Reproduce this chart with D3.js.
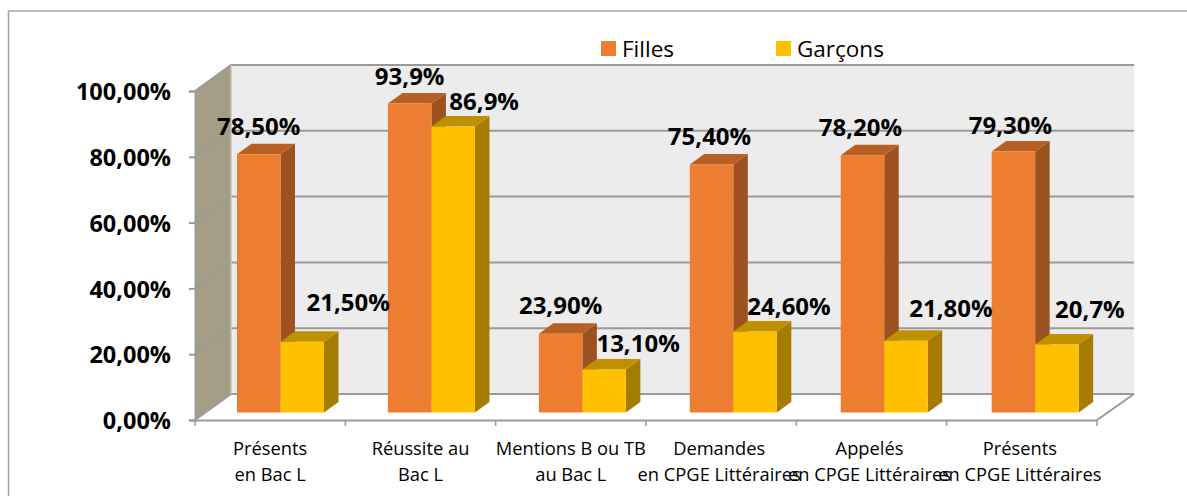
<!DOCTYPE html>
<html>
<head>
<meta charset="utf-8">
<script src="https://cdn.jsdelivr.net/npm/d3@7"></script>
<style>
  html, body { margin: 0; padding: 0; background: #fff; overflow: hidden; }
  svg { display: block; }
  text { font-family: "Open Sans", "Noto Sans", sans-serif; fill: #000; }
</style>
</head>
<body>
<div id="chart"></div>
<script>
const categories = [
  ['Présents', 'en Bac L'],
  ['Réussite au', 'Bac L'],
  ['Mentions B ou TB', 'au Bac L'],
  ['Demandes', 'en CPGE Littéraires'],
  ['Appelés', 'en CPGE Littéraires'],
  ['Présents', 'en CPGE Littéraires']
];
const filles = [78.5, 93.9, 23.9, 75.4, 78.2, 79.3];
const garcons = [21.5, 86.9, 13.1, 24.6, 21.8, 20.7];
const fillesLabels = ['78,50%', '93,9%', '23,90%', '75,40%', '78,20%', '79,30%'];
const garconsLabels = ['21,50%', '86,9%', '13,10%', '24,60%', '21,80%', '20,7%'];
const yTicks = [0, 20, 40, 60, 80, 100];

const width = 1187, height = 496;
// front edge of the floor; the back wall is this plane shifted by depth
const front = {left: 195, right: 1097, bottom: 420, top: 91};
const depth = {x: 36, y: -26};
const barDepth = {x: 14.5, y: -10.5};
const barWidth = 43.5;

// the labels were moved by hand in the original, so they need their own nudges
const fillesNudge = [[0, -19], [0, -19], [0, -20], [-2, -19], [-2, -19], [-3, -18]];
const garconsNudge = [[46, -31], [31, -17], [34, -17], [34, -17], [45, -24], [33, -26]];

const svg = d3.select('#chart').append('svg')
    .attr('width', width)
    .attr('height', height);

const x = d3.scaleBand()
    .domain(d3.range(categories.length))
    .range([front.left, front.right]);

const y = d3.scaleLinear()
    .domain([0, 100])
    .range([front.bottom, front.top]);

const barLeft = i => x(i) + 42 + i * 0.6;
const barY = v => y(v) - 7.5;

// outer frame, runs off the right and bottom of the picture
svg.append('rect')
    .attr('x', 8.5).attr('y', 11)
    .attr('width', 1200).attr('height', 520)
    .attr('fill', 'none')
    .attr('stroke', '#a6a6a6')
    .attr('stroke-width', 1.5);

// back wall
svg.append('rect')
    .attr('x', front.left + depth.x)
    .attr('y', y(100) + depth.y)
    .attr('width', front.right - front.left + 1)
    .attr('height', y(0) - y(100))
    .attr('fill', '#ececec');

// left wall
svg.append('path')
    .attr('d', d3.line()([
      [front.left, y(100)],
      [front.left + depth.x, y(100) + depth.y],
      [front.left + depth.x, y(0) + depth.y],
      [front.left, y(0)]
    ]) + 'Z')
    .attr('fill', '#a59d84');

// gridlines: left wall and back wall
const gridColor = '#9a9a9a';
svg.append('g').selectAll('path')
    .data(yTicks)
  .join('path')
    .attr('d', d => d3.line()([
      [front.left, y(d)],
      [front.left + depth.x, y(d) + depth.y],
      [front.right + depth.x + 1, y(d) + depth.y]
    ]))
    .attr('fill', 'none')
    .attr('stroke', gridColor)
    .attr('stroke-width', 2);

// floor outline on the right side
svg.append('path')
    .attr('d', d3.line()([
      [front.right + depth.x + 1, y(0) + depth.y],
      [front.right, y(0)]
    ]))
    .attr('stroke', gridColor)
    .attr('stroke-width', 2);

svg.append('line')
    .attr('x1', front.left + depth.x).attr('x2', front.left + depth.x)
    .attr('y1', y(100) + depth.y).attr('y2', y(0) + depth.y)
    .attr('stroke', '#c4c2b6')
    .attr('stroke-width', 1.5);

// axes
const yAxis = d3.axisLeft(y)
    .tickValues(yTicks)
    .tickFormat(d => d3.format('.2f')(d).replace('.', ',') + '%')
    .tickSize(6)
    .tickPadding(18);

const yAxisG = svg.append('g')
    .attr('transform', `translate(${front.left},0)`)
    .call(yAxis);
yAxisG.selectAll('text')
    .attr('font-size', 23.5).attr('font-weight', 700)
    .attr('dy', '0.37em')
    .style('font-family', '"Open Sans", sans-serif');
yAxisG.selectAll('line, path').attr('stroke', gridColor).attr('stroke-width', 2);

const xAxis = d3.axisBottom(x)
    .tickValues([])
    .tickSizeOuter(0);
const xAxisG = svg.append('g')
    .attr('transform', `translate(0,${y(0)})`)
    .call(xAxis);
xAxisG.selectAll('path').attr('stroke', gridColor).attr('stroke-width', 2);

// category boundary ticks
svg.append('g').selectAll('line')
    .data(d3.range(categories.length + 1))
  .join('line')
    .attr('x1', i => i < categories.length ? x(i) : front.right)
    .attr('x2', i => i < categories.length ? x(i) : front.right)
    .attr('y1', y(0))
    .attr('y2', y(0) + 6)
    .attr('stroke', gridColor)
    .attr('stroke-width', 1.5);

// category labels
const catText = svg.append('g').selectAll('text')
    .data(categories)
  .join('text')
    .attr('text-anchor', 'middle')
    .attr('font-size', 18.3);
catText.selectAll('tspan')
    .data((d, i) => d.map((line, j) => ({line, j, i})))
  .join('tspan')
    .attr('x', d => x(d.i) + x.bandwidth() / 2 - (d.i > 2 ? 2 : 0))
    .attr('y', d => 455 + d.j * 26)
    .text(d => d.line);

// 3D bars: side, top, front
function drawBars(values, colors, leftOf) {
  const g = svg.append('g').selectAll('g')
      .data(values)
    .join('g');

  g.append('path') // side
      .attr('d', (d, i) => {
        const r = leftOf(i) + barWidth, t = barY(d), b = barY(0);
        return d3.line()([
          [r, t], [r + barDepth.x, t + barDepth.y],
          [r + barDepth.x, b + barDepth.y], [r, b]
        ]) + 'Z';
      })
      .attr('fill', colors.side);

  g.append('path') // top
      .attr('d', (d, i) => {
        const l = leftOf(i), t = barY(d);
        return d3.line()([
          [l, t], [l + barDepth.x, t + barDepth.y],
          [l + barWidth + barDepth.x, t + barDepth.y], [l + barWidth, t]
        ]) + 'Z';
      })
      .attr('fill', colors.top);

  g.append('rect') // front
      .attr('x', (d, i) => leftOf(i))
      .attr('y', d => barY(d))
      .attr('width', barWidth)
      .attr('height', d => barY(0) - barY(d))
      .attr('fill', colors.front);
}

drawBars(filles, {front: '#ed7d31', side: '#9c5220', top: '#b85f24'}, barLeft);
drawBars(garcons, {front: '#ffc000', side: '#a67c00', top: '#bf9000'}, i => barLeft(i) + barWidth);

// value labels
const labelG = svg.append('g')
    .attr('font-size', 24)
    .attr('font-weight', 700)
    .attr('text-anchor', 'middle');
labelG.selectAll('.f')
    .data(filles)
  .join('text')
    .attr('class', 'f')
    .attr('x', (d, i) => barLeft(i) + barWidth / 2 + fillesNudge[i][0])
    .attr('y', (d, i) => barY(d) + fillesNudge[i][1])
    .text((d, i) => fillesLabels[i]);
labelG.selectAll('.g')
    .data(garcons)
  .join('text')
    .attr('class', 'g')
    .attr('x', (d, i) => barLeft(i) + barWidth * 1.5 + garconsNudge[i][0])
    .attr('y', (d, i) => barY(d) + garconsNudge[i][1])
    .text((d, i) => garconsLabels[i]);

// legend
const legend = [
  {name: 'Filles', color: '#ed7d31', x: 601},
  {name: 'Garçons', color: '#ffc000', x: 776}
];
const legendG = svg.append('g').selectAll('g')
    .data(legend)
  .join('g')
    .attr('transform', d => `translate(${d.x},41)`);
legendG.append('rect')
    .attr('width', 15).attr('height', 15)
    .attr('fill', d => d.color);
legendG.append('text')
    .attr('x', 21).attr('y', 16)
    .attr('font-size', 22.5)
    .text(d => d.name);
</script>
</body>
</html>
